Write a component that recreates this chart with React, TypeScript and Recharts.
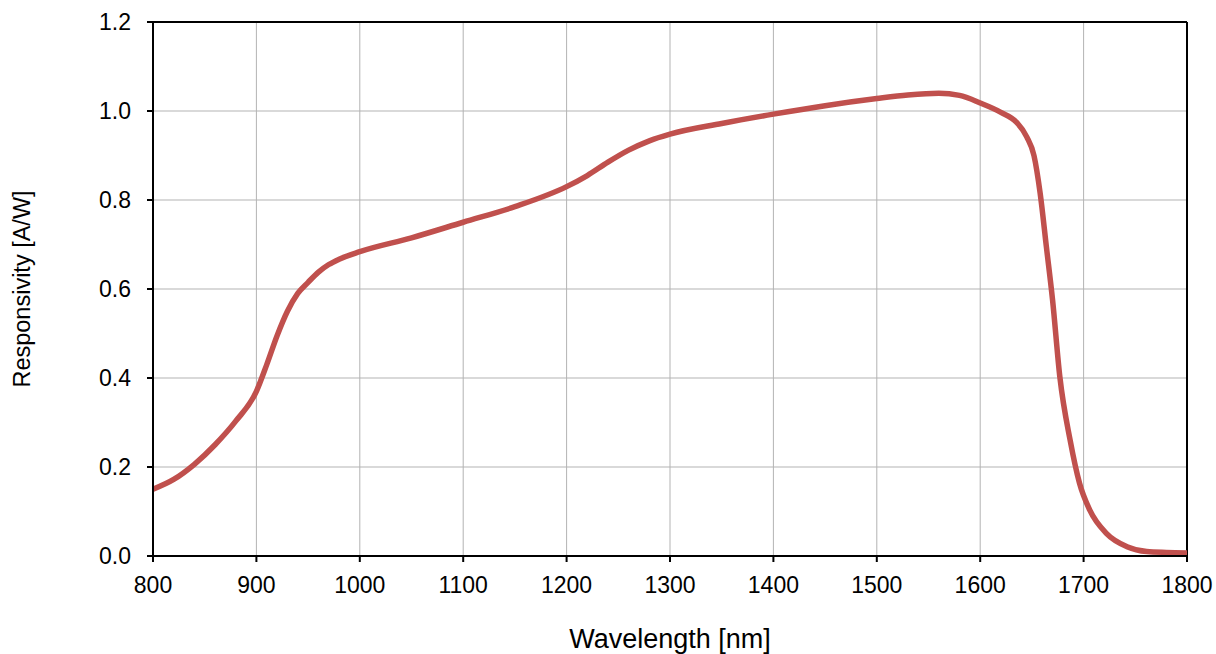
import { CartesianGrid, Line, LineChart, ReferenceLine, XAxis, YAxis } from 'recharts';

const wavelengths = [
  800, 820, 840, 860, 880, 900, 910, 920, 930, 940, 950, 960, 970, 980, 1000, 1050, 1100, 1150, 1200, 1220,
  1240, 1260, 1280, 1300, 1350, 1400, 1450, 1500, 1530, 1560, 1580, 1600, 1620, 1635, 1645, 1652, 1658, 1664,
  1670, 1677, 1687, 1696, 1706, 1722, 1742, 1761, 1780, 1800,
];

const responsivity = [
  0.15, 0.172, 0.206, 0.25, 0.303, 0.37, 0.43, 0.495, 0.55, 0.59, 0.615, 0.638, 0.655, 0.667, 0.684, 0.715,
  0.75, 0.785, 0.83, 0.855, 0.885, 0.912, 0.933, 0.948, 0.972, 0.993, 1.012, 1.028, 1.036, 1.04, 1.035, 1.018,
  0.997, 0.975, 0.942, 0.9, 0.815, 0.695, 0.575, 0.403, 0.26, 0.164, 0.103, 0.051, 0.021, 0.01, 0.008, 0.007,
];

const xTicks = [800, 900, 1000, 1100, 1200, 1300, 1400, 1500, 1600, 1700, 1800];
const yTicks = [0, 0.2, 0.4, 0.6, 0.8, 1.0, 1.2];

const data = wavelengths.map((w, i) => ({ wavelength: w, value: responsivity[i] }));

const font = "'Liberation Sans', Arial, sans-serif";
const tickStyle = { fontSize: 23, fill: '#000', fontFamily: font };

export default function App() {
  return (
    <div style={{ position: 'absolute', left: 0, top: 0, background: '#fff' }}>
      <LineChart width={1216} height={654} data={data} margin={{ top: 22, right: 29, bottom: 0, left: 0 }}>
        <CartesianGrid stroke="#b3b3b3" strokeWidth={1} />
        <XAxis
          dataKey="wavelength"
          type="number"
          domain={[800, 1800]}
          ticks={xTicks}
          height={98}
          tick={tickStyle}
          tickSize={6}
          tickMargin={15}
          stroke="#000"
          strokeWidth={2}
          tickLine={{ stroke: '#000', strokeWidth: 2 }}
          label={{ value: 'Wavelength [nm]', position: 'insideBottom', offset: 6, style: { fontSize: 27, fill: '#000', fontFamily: font } }}
        />
        <YAxis
          type="number"
          domain={[0, 1.2]}
          ticks={yTicks}
          width={153}
          tick={tickStyle}
          tickFormatter={(v: number) => v.toFixed(1)}
          tickSize={6}
          tickMargin={16}
          stroke="#000"
          strokeWidth={2}
          tickLine={{ stroke: '#000', strokeWidth: 2 }}
          label={{
            value: 'Responsivity [A/W]',
            angle: -90,
            position: 'insideLeft',
            offset: 22,
            style: { textAnchor: 'middle', fontSize: 23.5, fill: '#000', fontFamily: font },
          }}
        />
        <ReferenceLine x={1800} stroke="#000" strokeWidth={2} />
        <ReferenceLine y={1.2} stroke="#000" strokeWidth={2} />
        <Line
          type="monotone"
          dataKey="value"
          stroke="#c0504d"
          strokeWidth={5.5}
          dot={false}
          activeDot={false}
          isAnimationActive={false}
        />
      </LineChart>
    </div>
  );
}
